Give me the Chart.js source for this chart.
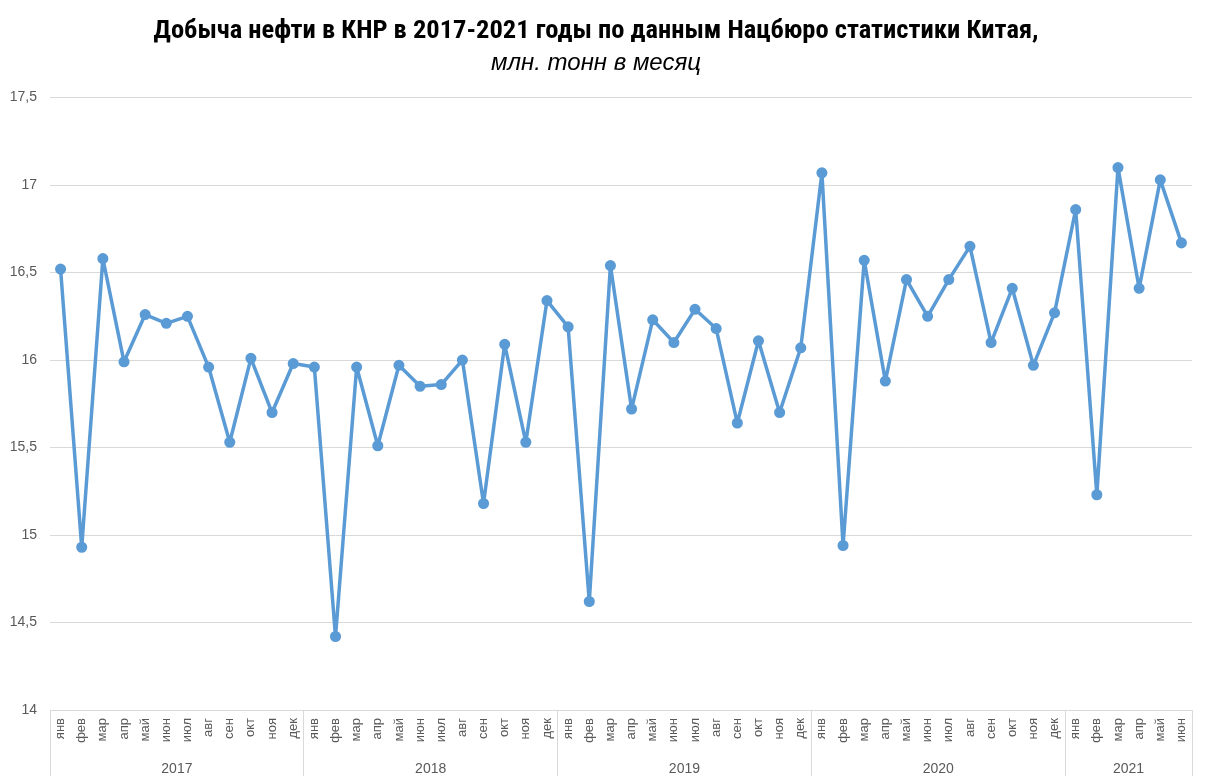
<!DOCTYPE html>
<html>
<head>
<meta charset="utf-8">
<script src="https://cdn.jsdelivr.net/npm/chart.js@4"></script>
<style>
  body { margin: 0; background: #fff; }
  #wrap { width: 1211px; height: 782px; }
</style>
</head>
<body>
<div id="wrap"><canvas id="oil-chart"></canvas></div>
<script>
const monthNames = ['янв', 'фев', 'мар', 'апр', 'май', 'июн', 'июл', 'авг', 'сен', 'окт', 'ноя', 'дек'];
const years = ['2017', '2018', '2019', '2020', '2021'];
const monthsPerYear = [12, 12, 12, 12, 6];

// млн. тонн в месяц
const output2017 = [16.52, 14.93, 16.58, 15.99, 16.26, 16.21, 16.25, 15.96, 15.53, 16.01, 15.70, 15.98];
const output2018 = [15.96, 14.42, 15.96, 15.51, 15.97, 15.85, 15.86, 16.00, 15.18, 16.09, 15.53, 16.34];
const output2019 = [16.19, 14.62, 16.54, 15.72, 16.23, 16.10, 16.29, 16.18, 15.64, 16.11, 15.70, 16.07];
const output2020 = [17.07, 14.94, 16.57, 15.88, 16.46, 16.25, 16.46, 16.65, 16.10, 16.41, 15.97, 16.27];
const output2021 = [16.86, 15.23, 17.10, 16.41, 17.03, 16.67];

const yTicks = [14, 14.5, 15, 15.5, 16, 16.5, 17, 17.5];

const labels = [];
const yearStarts = [];
const yearCenters = [];
monthsPerYear.forEach((n) => {
    yearStarts.push(labels.length);
    yearCenters.push(labels.length + (n - 1) / 2);
    labels.push(...monthNames.slice(0, n));
});
const values = [...output2017, ...output2018, ...output2019, ...output2020, ...output2021];

const lineColor = '#5b9bd5';
const gridColor = '#d9d9d9';
const textColor = '#595959';

const ctx = document.getElementById('oil-chart').getContext('2d');
const myChart = new Chart(ctx, {
    type: 'line',
    data: {
        labels: labels,
        datasets: [{
            data: values,
            borderColor: lineColor,
            backgroundColor: lineColor,
            borderWidth: 3.5,
            borderJoinStyle: 'round',
            pointRadius: 3.8,
            tension: 0,
            xAxisID: 'x'
        }]
    },
    options: {
        responsive: true,
        maintainAspectRatio: false,
        animation: false,
        layout: { padding: { left: 0, right: 19, top: 0, bottom: 4 } },
        plugins: {
            legend: { display: false },
            tooltip: { enabled: false },
            title: {
                display: true,
                text: 'Добыча нефти в КНР в 2017-2021 годы по данным Нацбюро статистики Китая,',
                color: '#000',
                font: { family: "'Roboto Condensed', 'Liberation Sans Narrow', sans-serif", size: 26.5, weight: 'bold' },
                padding: { top: 15, bottom: 2 }
            },
            subtitle: {
                display: true,
                text: 'млн. тонн в месяц',
                color: '#000',
                font: { family: "'Liberation Sans', sans-serif", size: 24, style: 'italic' },
                padding: { bottom: 20 }
            }
        },
        scales: {
            x: {
                type: 'category',
                offset: true,
                border: { display: true, color: gridColor, width: 1 },
                grid: {
                    offset: true,
                    drawOnChartArea: false,
                    tickLength: 66,
                    color: c => (c.type !== 'tick' || yearStarts.includes(c.index)) ? gridColor : 'rgba(0,0,0,0)'
                },
                afterFit: scale => { scale.height = 36; },
                ticks: {
                    autoSkip: false,
                    minRotation: 90,
                    maxRotation: 90,
                    padding: -58,
                    color: textColor,
                    font: { family: "'Liberation Sans', Arial, sans-serif", size: 13 }
                }
            },
            years: {
                type: 'linear',
                position: 'bottom',
                min: -0.5,
                max: labels.length - 0.5,
                grid: { display: false },
                border: { display: false },
                afterBuildTicks: scale => {
                    scale.ticks = yearCenters.map(v => ({ value: v }));
                },
                afterFit: scale => { scale.height = 32; },
                ticks: {
                    autoSkip: false,
                    maxRotation: 0,
                    padding: 7,
                    color: textColor,
                    font: { family: "'Liberation Sans', Arial, sans-serif", size: 14 },
                    callback: v => years[yearCenters.indexOf(v)]
                }
            },
            y: {
                min: 14,
                max: 17.5,
                border: { display: false },
                grid: { color: gridColor, drawTicks: false },
                afterBuildTicks: scale => {
                    scale.ticks = yTicks.map(v => ({ value: v }));
                },
                afterFit: scale => { scale.width = 50; },
                ticks: {
                    padding: 13,
                    color: textColor,
                    font: { family: "'Liberation Sans', Arial, sans-serif", size: 14 },
                    callback: v => String(v).replace('.', ',')
                }
            }
        }
    }
});
</script>
</body>
</html>
